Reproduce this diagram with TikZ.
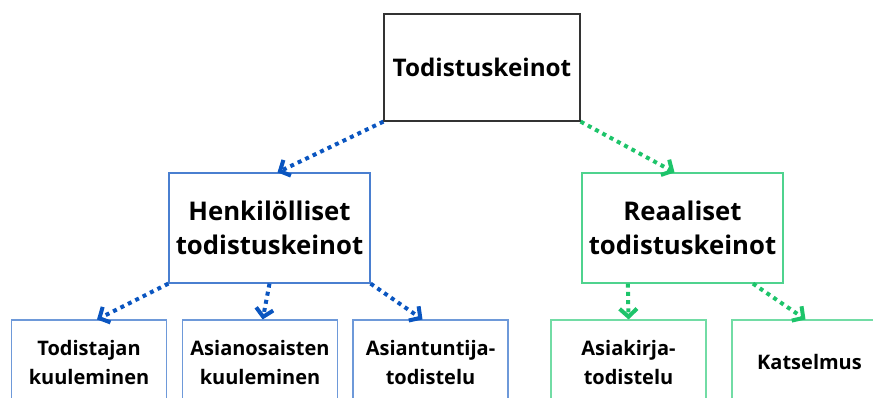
\documentclass[tikz,border=0pt]{standalone}
\usepackage{fontspec}
\setmainfont{Open Sans}
\usepackage{tikz}
\usetikzlibrary{arrows.meta}

\definecolor{nuolisin}{HTML}{0A55C0}
\definecolor{reunasin}{HTML}{4A7FD0}
\definecolor{nuolivih}{HTML}{1DC46A}
\definecolor{reunavih}{HTML}{4FD38E}

\begin{document}
\begin{tikzpicture}[x=0.75pt, y=-0.75pt,
    every node/.style={inner sep=0pt, align=center, font=\bfseries},
    paa/.style={draw=black!80, line width=0.9pt, minimum width=147pt, minimum height=80.25pt, font=\bfseries\fontsize{18.2}{24}\selectfont},
    keino/.style={line width=0.9pt, minimum width=150.75pt, minimum height=82.5pt, font=\bfseries\fontsize{19.3}{25.5}\selectfont},
    laji/.style={line width=0.8pt, minimum width=116.25pt, minimum height=63pt, font=\bfseries\fontsize{15}{21.75}\selectfont},
    nuoli/.style={line width=3pt, dash pattern=on 3pt off 3.2pt, -{Straight Barb[length=6pt, width=13pt]}}]
\useasboundingbox (0, 0) rectangle (873, 397);
\clip (0, 0) rectangle (873, 397);
\node[paa] (juuri) at (482, 67.5) {Todistuskeinot};
\node[keino, draw=reunasin] (henk) at (269.5, 228) {Henkilölliset\\todistuskeinot};
\node[keino, draw=reunavih] (reaal) at (682.5, 228) {Reaaliset\\todistuskeinot};
\node[laji, draw=reunasin!80] (todistaja) at (89, 362) {Todistajan\\kuuleminen};
\node[laji, draw=reunasin!80] (asianosainen) at (260, 362) {Asianosaisten\\kuuleminen};
\node[laji, draw=reunasin!80] (asiantuntija) at (430.5, 362) {Asiantuntija-\\todistelu};
\node[laji, draw=reunavih!80] (asiakirja) at (628.5, 362) {Asiakirja-\\todistelu};
\node[laji, draw=reunavih!80] (katselmus) at (809.5, 362) {Katselmus};
\draw[nuoli, nuolisin] (juuri.south west) -- ([xshift=6pt]henk.north);
\draw[nuoli, nuolivih] (juuri.south east) -- ([xshift=-6pt]reaal.north);
\draw[nuoli, nuolisin] (henk.south west) -- ([xshift=6pt]todistaja.north);
\draw[nuoli, nuolisin] (henk.south) -- ([xshift=2pt]asianosainen.north);
\draw[nuoli, nuolisin] (henk.south east) -- ([xshift=-6pt]asiantuntija.north);
\draw[nuoli, nuolivih] ([xshift=-41pt]reaal.south) -- (asiakirja.north);
\draw[nuoli, nuolivih] ([xshift=-23pt]reaal.south east) -- ([xshift=-3pt]katselmus.north);
\end{tikzpicture}
\end{document}
